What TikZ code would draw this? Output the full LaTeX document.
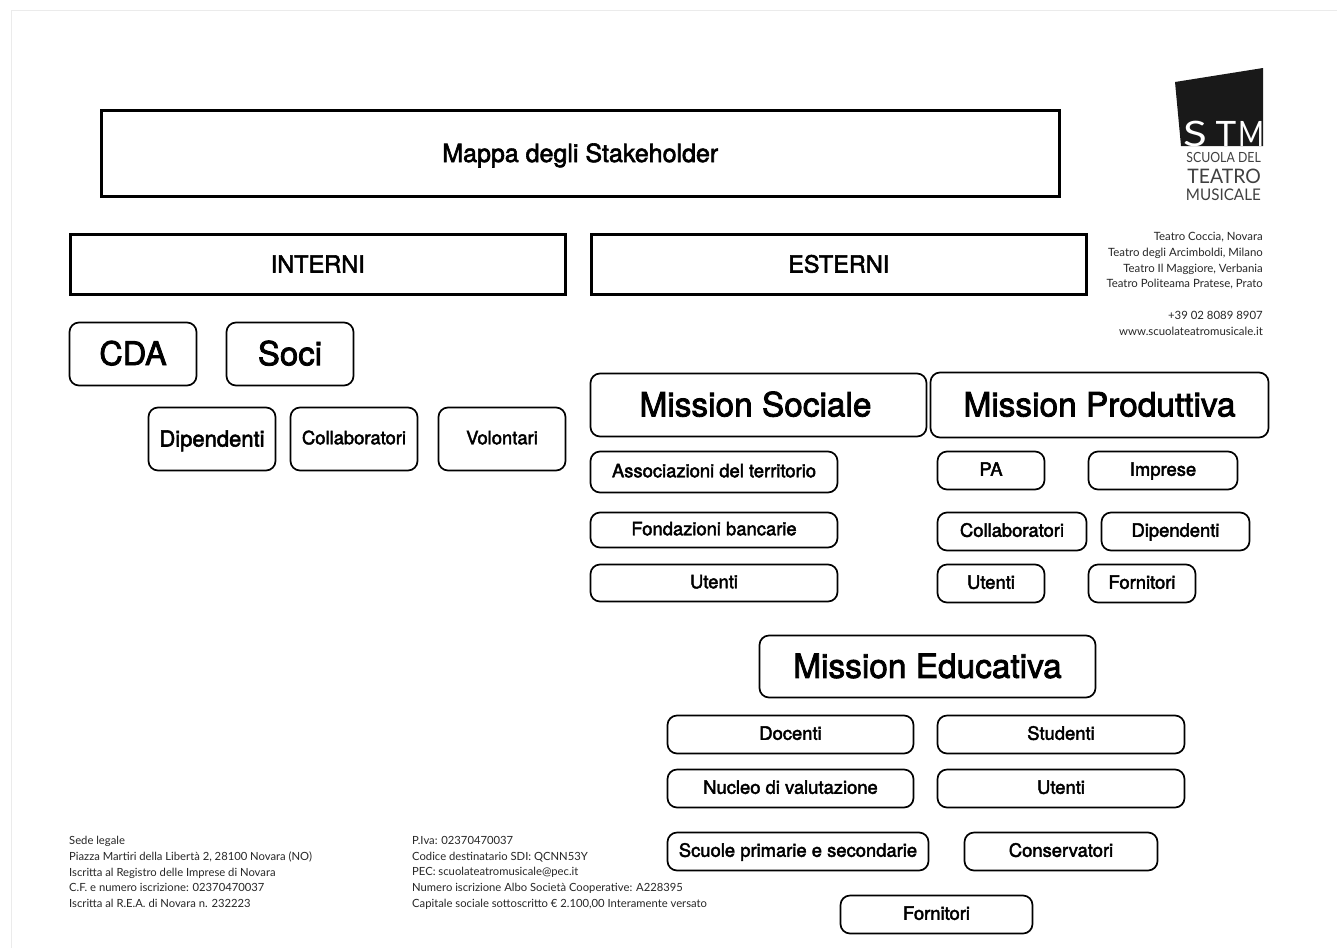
\documentclass[tikz,border=0pt]{standalone}
\usepackage{fontspec}
\setmainfont{TeX Gyre Heros}
\newfontfamily\medf[FakeBold=2.4]{TeX Gyre Heros}
\newfontfamily\lightf{Lato}
\tikzset{x=1pt,y=-1pt,
 sqbox/.style={draw=black,line width=3pt,fill=white,sharp corners,inner sep=0pt},
 rbox/.style={draw=black,line width=1.7pt,fill=white,rounded corners=9.5pt,inner sep=0pt},
 small/.style={font=\lightf\fontsize{11.25}{15.75}\selectfont,anchor=north west,align=left,inner sep=0pt,text=black!85},
 smallr/.style={font=\lightf\fontsize{11.4}{15.75}\selectfont,anchor=north east,align=right,inner sep=0pt,text=black!85},
 logol/.style={inner sep=0pt,anchor=base,text=white},
 logot/.style={inner sep=0pt,anchor=base east,text=black!75},
}
\newcommand{\bx}[9]{\node[#1,minimum width=#5pt-#3pt-#9pt,minimum height=#6pt-#4pt-#9pt,text height=.72*#7pt,text depth={(.04*#7+(#7<19?2:0))*1pt},font=\medf\fontsize{#7}{#7}\selectfont] (#2) at ({(#3+#5)/2},{(#4+#6)/2}) {#8};}
\begin{document}
\begin{tikzpicture}
\useasboundingbox (0,0) rectangle (1337,948);
\coordinate (fa) at (11,948);
\coordinate (fb) at (11,10.5);
\coordinate (fc) at (1337,10.5);
\draw[black!8,line width=1pt] (fa) -- (fb) -- (fc);
% title & groups
\bx{sqbox}{title}{100}{109.5}{1060.5}{197.5}{25}{Mappa degli Stakeholder}{2.5}
\bx{sqbox}{interni}{69}{233.5}{566.5}{295.5}{23.5}{INTERNI}{2.5}
\bx{sqbox}{esterni}{590}{233.5}{1087.5}{295.5}{23.5}{ESTERNI}{2.5}
% interni
\bx{rbox}{cda}{69}{322}{197}{386}{32.5}{CDA}{1}
\bx{rbox}{soci}{226}{322}{354}{386}{33}{Soci}{1}
\bx{rbox}{dip}{148}{407}{276}{471}{22}{Dipendenti}{1}
\bx{rbox}{coll}{290}{407}{418}{471}{18.4}{Collaboratori}{1}
\bx{rbox}{vol}{438}{407}{566}{471}{18.4}{Volontari}{1}
% sociale
\bx{rbox}{msoc}{590}{373}{927}{437}{33.4}{\hspace*{-6pt}Mission Sociale}{1}
\bx{rbox}{ass}{590}{451}{838}{493}{18.4}{Associazioni del territorio}{1}
\bx{rbox}{fond}{590}{512}{838}{548}{18.4}{Fondazioni bancarie}{1}
\bx{rbox}{uts}{590}{564}{838}{602}{18.4}{Utenti}{1}
% produttiva
\bx{rbox}{mprod}{930}{372}{1269}{438}{33.4}{Mission Produttiva}{1}
\bx{rbox}{pa}{937}{451}{1045}{490}{18.4}{PA}{1}
\bx{rbox}{imp}{1088}{451}{1238}{490}{18.4}{Imprese}{1}
\bx{rbox}{colp}{937}{512}{1087}{551}{18.4}{Collaboratori}{1}
\bx{rbox}{dipp}{1101}{512}{1250}{551}{18.4}{Dipendenti}{1}
\bx{rbox}{utp}{937}{564}{1045}{603}{18.4}{Utenti}{1}
\bx{rbox}{forp}{1088}{564}{1196}{603}{18.4}{Fornitori}{1}
% educativa
\bx{rbox}{medu}{759}{635}{1096}{698}{33.4}{Mission Educativa}{1}
\bx{rbox}{doc}{667}{715}{914}{754}{18.4}{Docenti}{1}
\bx{rbox}{stu}{937}{715}{1185}{754}{18.4}{Studenti}{1}
\bx{rbox}{nuc}{667}{769}{914}{808}{18.4}{Nucleo di valutazione}{1}
\bx{rbox}{ute}{937}{769}{1185}{808}{18.4}{Utenti}{1}
\bx{rbox}{scu}{667}{832}{929}{871}{18.4}{Scuole primarie e secondarie}{1}
\bx{rbox}{con}{964}{832}{1158}{871}{18.4}{Conservatori}{1}
\bx{rbox}{fore}{840}{895}{1033}{934}{18.4}{Fornitori}{1}
% logo
\fill[black!90] (1175,82) -- (1263,68) -- (1263,146) -- (1181,146) -- cycle;
\node[logol,font=\lightf\fontsize{35}{35}\selectfont] (ls) at (1195,146) {\scalebox{1.25}[1]{S}};
\node[logol,font=\lightf\fontsize{35}{35}\selectfont] (lt) at (1226,146) {T};
\node[logol,font=\lightf\fontsize{35}{35}\selectfont] (lm) at (1251,146) {\scalebox{.8}[1]{M}};
\node[logot,font=\lightf\fontsize{14}{14}\selectfont] (l1) at (1261,162) {\scalebox{.88}[1]{SCUOLA DEL}};
\node[logot,font=\lightf\fontsize{20}{20}\selectfont] (l2) at (1261,183) {\scalebox{.97}[1]{TEATRO}};
\node[logot,font=\lightf\fontsize{16}{16}\selectfont] (l3) at (1261,200) {\scalebox{.95}[1]{MUSICALE}};
% address
\node[smallr] (addr) at (1263,232) {Teatro Coccia, Novara\\Teatro degli Arcimboldi, Milano\\Teatro Il Maggiore, Verbania\\Teatro Politeama Pratese, Prato\\[15.75pt]+39 02 8089 8907\\www.scuolateatromusicale.it};
\node[small] (sede) at (69,836) {Sede legale\\Piazza Martiri della Libertà 2, 28100 Novara (NO)\\Iscritta al Registro delle Imprese di Novara\\C.F. e numero iscrizione: 02370470037\\Iscritta al R.E.A. di Novara n. 232223};
\node[small] (iva) at (412,836) {P.Iva: 02370470037\\Codice destinatario SDI: QCNN53Y\\PEC: scuolateatromusicale@pec.it\\Numero iscrizione Albo Società Cooperative: A228395\\Capitale sociale sottoscritto € 2.100,00 Interamente versato};
\end{tikzpicture}
\end{document}
